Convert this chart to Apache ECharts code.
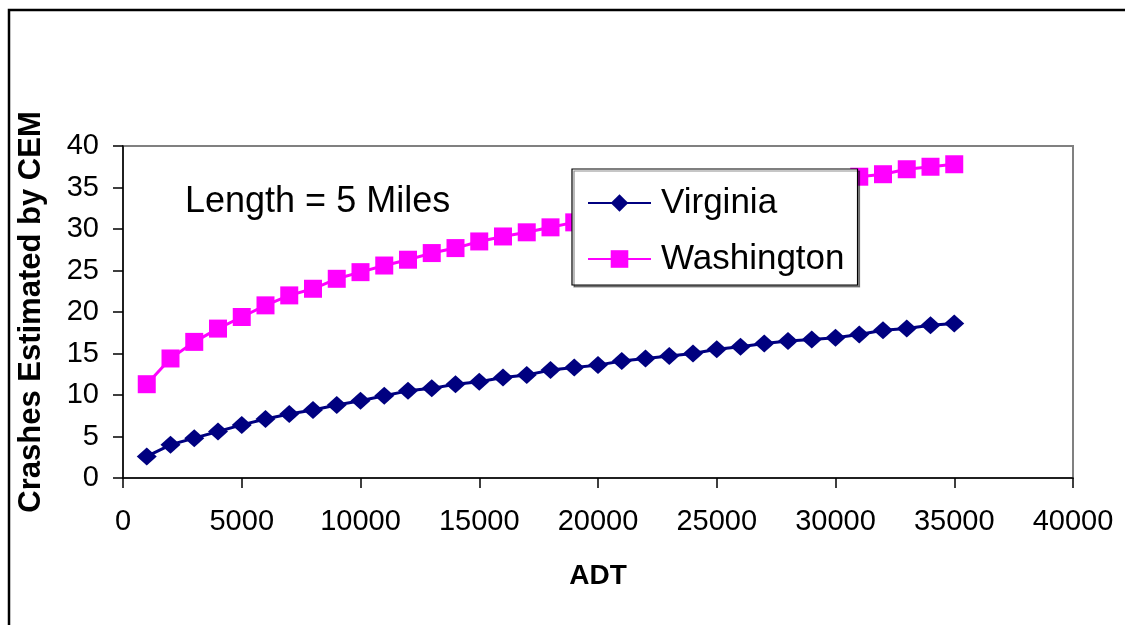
<!DOCTYPE html>
<html>
<head>
<meta charset="utf-8">
<script src="https://cdn.jsdelivr.net/npm/echarts@6/dist/echarts.min.js"></script>
<style>
  html, body { margin: 0; padding: 0; background: #ffffff; }
  #chart { width: 1125px; height: 625px; }
</style>
</head>
<body>
<div id="chart"></div>
<script>
// Average daily traffic (vehicles/day) at which the crash model was evaluated
const adt = [1000, 2000, 3000, 4000, 5000, 6000, 7000, 8000, 9000, 10000,
             11000, 12000, 13000, 14000, 15000, 16000, 17000, 18000, 19000, 20000,
             21000, 22000, 23000, 24000, 25000, 26000, 27000, 28000, 29000, 30000,
             31000, 32000, 33000, 34000, 35000];

// Crashes estimated by CEM for a 5-mile segment
const virginia = [2.6, 4.0, 4.8, 5.6, 6.4, 7.1, 7.7, 8.2, 8.8, 9.3,
                  9.9, 10.5, 10.8, 11.3, 11.6, 12.1, 12.4, 13.0, 13.3, 13.6,
                  14.1, 14.4, 14.7, 15.0, 15.5, 15.8, 16.2, 16.5, 16.7, 16.9,
                  17.3, 17.8, 18.0, 18.4, 18.6];

const washington = [11.3, 14.4, 16.4, 18.0, 19.4, 20.8, 22.0, 22.8, 24.0, 24.8,
                    25.6, 26.3, 27.1, 27.7, 28.5, 29.1, 29.6, 30.2, 30.8, 31.3,
                    31.8, 32.3, 32.8, 33.2, 33.7, 34.1, 34.6, 35.0, 35.4, 35.8,
                    36.3, 36.6, 37.2, 37.5, 37.8];

const seriesNames = ['Virginia', 'Washington'];
const xTicks = { min: 0, max: 40000, interval: 5000 };
const yTicks = { min: 0, max: 40, interval: 5 };

const FONT = '"Liberation Sans", Arial, sans-serif';

const pairs = (ys) => adt.map((x, i) => [x, ys[i]]);

const chart = echarts.init(document.getElementById('chart'), null, { renderer: 'canvas' });

chart.setOption({
  backgroundColor: '#ffffff',
  animation: false,
  textStyle: { fontFamily: FONT, color: '#000' },
  grid: {
    left: 123, right: 52, top: 146, bottom: 147,
    show: true,
    backgroundColor: '#ffffff',
    borderColor: '#808080',
    borderWidth: 2
  },
  graphic: [
    {
      type: 'rect',
      z: -10,
      shape: { x: 9, y: 10, width: 1200, height: 700 },
      style: { fill: null, stroke: '#000', lineWidth: 2.5 }
    },
    {
      type: 'text',
      left: 185, top: 184,
      z: 5,
      style: {
        text: 'Length = 5 Miles',
        font: '36px ' + FONT,
        fill: '#000'
      }
    }
  ],
  legend: {
    data: seriesNames,
    orient: 'vertical',
    left: 572, top: 169,
    padding: [14, 13, 6, 15],
    itemGap: 16,
    itemWidth: 63,
    itemHeight: 22,
    backgroundColor: '#ffffff',
    borderColor: '#000',
    borderWidth: 1.2,
    shadowColor: 'rgba(0,0,0,0.45)',
    shadowOffsetX: 2,
    shadowOffsetY: 2,
    shadowBlur: 0,
    textStyle: {
      fontFamily: FONT,
      fontSize: 35,
      lineHeight: 40,
      color: '#000',
      padding: [0, 0, 0, 5]
    }
  },
  xAxis: {
    type: 'value',
    min: xTicks.min, max: xTicks.max, interval: xTicks.interval,
    name: 'ADT',
    nameLocation: 'middle',
    nameGap: 84,
    nameTextStyle: { fontFamily: FONT, fontSize: 28, fontWeight: 'bold', color: '#000' },
    splitLine: { show: false },
    axisLine: { show: true, onZero: false, lineStyle: { color: '#000', width: 1.5 } },
    axisTick: { show: true, inside: false, length: 10, lineStyle: { color: '#000', width: 1.5 } },
    axisLabel: {
      fontFamily: FONT, fontSize: 29, color: '#000', margin: 29,
      formatter: (v) => String(v)
    }
  },
  yAxis: {
    type: 'value',
    min: yTicks.min, max: yTicks.max, interval: yTicks.interval,
    name: 'Crashes Estimated by CEM',
    nameLocation: 'middle',
    nameGap: 76,
    nameTextStyle: { fontFamily: FONT, fontSize: 31, fontWeight: 'bold', color: '#000' },
    splitLine: { show: false },
    axisLine: { show: true, onZero: false, lineStyle: { color: '#000', width: 1.5 } },
    axisTick: { show: true, inside: false, length: 10, lineStyle: { color: '#000', width: 1.5 } },
    axisLabel: { fontFamily: FONT, fontSize: 29, color: '#000', margin: 24 }
  },
  series: [
    {
      name: seriesNames[0],
      type: 'line',
      data: pairs(virginia),
      symbol: 'diamond',
      symbolSize: [20, 18],
      showAllSymbol: true,
      z: 3,
      itemStyle: { color: '#000080' },
      lineStyle: { color: '#000080', width: 3 }
    },
    {
      name: seriesNames[1],
      type: 'line',
      data: pairs(washington),
      symbol: 'rect',
      symbolSize: 18,
      showAllSymbol: true,
      z: 3,
      itemStyle: { color: '#ff00ff' },
      lineStyle: { color: '#ff00ff', width: 3 }
    }
  ]
});
</script>
</body>
</html>
